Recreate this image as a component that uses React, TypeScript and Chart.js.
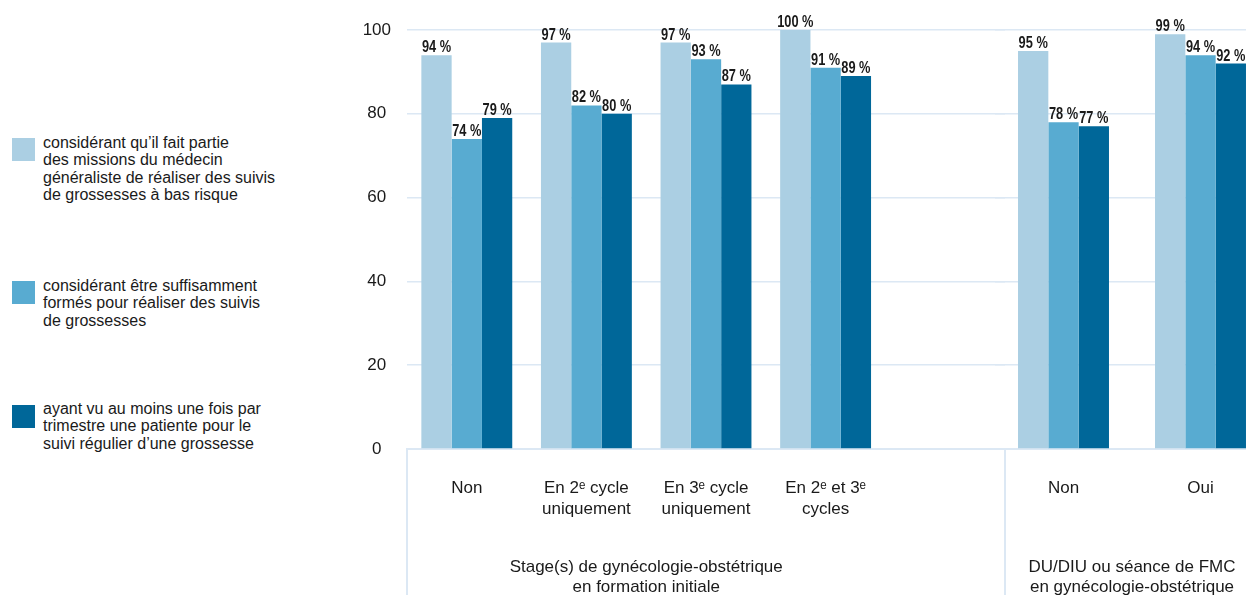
import React, { useEffect, useRef } from 'react';
import { Chart, registerables } from 'chart.js';

Chart.register(...registerables);

// ---------- data ----------
const seriesNames: string[][] = [
  ['considérant qu’il fait partie', 'des missions du médecin', 'généraliste de réaliser des suivis', 'de grossesses à bas risque'],
  ['considérant être suffisamment', 'formés pour réaliser des suivis', 'de grossesses'],
  ['ayant vu au moins une fois par', 'trimestre une patiente pour le', 'suivi régulier d’une grossesse'],
];
const seriesColors = ['#abcfe3', '#58abd1', '#006799'];

const stageCategories: (string | string[])[] = [
  'Non',
  ['En 2ᵉ cycle', 'uniquement'],
  ['En 3ᵉ cycle', 'uniquement'],
  ['En 2ᵉ et 3ᵉ', 'cycles'],
];
const stageMissions = [94, 97, 97, 100];
const stageFormes = [74, 82, 93, 91];
const stageVus = [79, 80, 87, 89];
const stageGroupLabel = ['Stage(s) de gynécologie-obstétrique', 'en formation initiale'];

const fmcCategories: (string | string[])[] = ['Non', 'Oui'];
const fmcMissions = [95, 99];
const fmcFormes = [78, 94];
const fmcVus = [77, 92];
const fmcGroupLabel = ['DU/DIU ou séance de FMC', 'en gynécologie-obstétrique'];

const yTicks = [0, 20, 40, 60, 80, 100];

// ---------- styles ----------
const gridColor = '#dce8f4';
const textColor = '#1a1a1a';
const sansFont = '"Liberation Sans", Arial, Helvetica, sans-serif';

const valueLabelPlugin = {
  id: 'valueLabels',
  afterDatasetsDraw(chart: any) {
    const ctx = chart.ctx;
    chart.data.datasets.forEach((ds: any, di: number) => {
      const meta = chart.getDatasetMeta(di);
      meta.data.forEach((el: any, i: number) => {
        const v = ds.data[i];
        if (v === null || v === undefined) return;
        ctx.save();
        ctx.font = `bold 16px ${sansFont}`;
        ctx.fillStyle = textColor;
        ctx.textAlign = 'center';
        ctx.textBaseline = 'alphabetic';
        ctx.translate(el.x, el.y - 3);
        ctx.scale(0.8, 1);
        ctx.fillText(`${v} %`, 0, 0);
        ctx.restore();
      });
    });
  },
};

function makeGroupPlugin(lines: string[], n: number, separators: boolean) {
  return {
    id: 'groupLabel',
    afterDraw(chart: any) {
      const ctx = chart.ctx;
      const xs = chart.scales.x;
      const area = chart.chartArea;
      ctx.save();
      if (separators) {
        ctx.strokeStyle = gridColor;
        ctx.lineWidth = 2;
        ctx.beginPath();
        ctx.moveTo(area.left, area.bottom);
        ctx.lineTo(area.left, chart.height);
        ctx.moveTo(area.right, area.bottom);
        ctx.lineTo(area.right, chart.height);
        ctx.stroke();
      }
      const cx = (xs.getPixelForValue(0) + xs.getPixelForValue(n - 1)) / 2;
      ctx.font = `17px ${sansFont}`;
      ctx.fillStyle = textColor;
      ctx.textAlign = 'center';
      ctx.textBaseline = 'middle';
      lines.forEach((t, i) => ctx.fillText(t, cx, 567 + i * 20));
      ctx.restore();
    },
  };
}

function buildChart(
  canvas: HTMLCanvasElement,
  labels: (string | string[])[],
  series: (number | null)[][],
  catPct: number,
  showY: boolean,
  yWidth: number,
  rightPad: number,
  groupLabel: string[],
  nReal: number,
  separators: boolean
) {
  return new Chart(canvas, {
    type: 'bar',
    data: {
      labels,
      datasets: series.map((d, i) => ({
        label: seriesNames[i].join(' '),
        data: d,
        backgroundColor: seriesColors[i],
        borderWidth: 0,
        categoryPercentage: catPct,
        barPercentage: 1,
      })),
    },
    options: {
      responsive: false,
      animation: false,
      maintainAspectRatio: false,
      layout: { padding: { top: 30, left: 0, right: rightPad, bottom: 0 } },
      plugins: { legend: { display: false }, tooltip: { enabled: false } },
      scales: {
        x: {
          grid: { display: false },
          border: { display: true, color: gridColor, width: 2 },
          ticks: {
            autoSkip: false,
            maxRotation: 0,
            minRotation: 0,
            padding: 21,
            color: textColor,
            font: { size: 17, family: sansFont, lineHeight: 1.24 },
          },
          afterFit: (s: any) => {
            s.height = 146;
          },
        },
        y: {
          min: 0,
          max: 100,
          afterBuildTicks: (s: any) => {
            s.ticks = yTicks.map((v) => ({ value: v }));
          },
          grid: { color: gridColor, lineWidth: 1.5, drawTicks: false },
          border: { display: false },
          ticks: {
            display: showY,
            padding: 16,
            crossAlign: 'center',
            color: textColor,
            font: { size: 17, family: sansFont },
          },
          afterFit: (s: any) => {
            s.width = yWidth;
          },
        },
      },
    } as any,
    plugins: [valueLabelPlugin, makeGroupPlugin(groupLabel, nReal, separators)],
  });
}

export default function App() {
  const refA = useRef<HTMLCanvasElement>(null);
  const refB = useRef<HTMLCanvasElement>(null);

  useEffect(() => {
    const a = buildChart(
      refA.current!,
      [...stageCategories, ''],
      [
        [...stageMissions, null],
        [...stageFormes, null],
        [...stageVus, null],
      ],
      0.76,
      true,
      67,
      2,
      stageGroupLabel,
      stageCategories.length,
      true
    );
    const b = buildChart(
      refB.current!,
      fmcCategories,
      [fmcMissions, fmcFormes, fmcVus],
      0.664,
      false,
      0,
      0,
      fmcGroupLabel,
      fmcCategories.length,
      false
    );
    return () => {
      a.destroy();
      b.destroy();
    };
  }, []);

  const legendTops = [
    { sw: 138, tx: 134 },
    { sw: 281, tx: 277 },
    { sw: 405, tx: 400 },
  ];

  return (
    <div
      style={{
        position: 'fixed',
        left: 0,
        top: 0,
        width: 1246,
        height: 595,
        overflow: 'hidden',
        background: '#ffffff',
        fontFamily: sansFont,
      }}
    >
      {seriesNames.map((lines, i) => (
        <React.Fragment key={i}>
          <div
            style={{
              position: 'absolute',
              left: 12,
              top: legendTops[i].sw,
              width: 23,
              height: 23,
              background: seriesColors[i],
            }}
          />
          <div
            style={{
              position: 'absolute',
              left: 43,
              top: legendTops[i].tx,
              fontSize: 16,
              lineHeight: '17.3px',
              color: textColor,
              whiteSpace: 'nowrap',
            }}
          >
            {lines.map((l, j) => (
              <div key={j}>{l}</div>
            ))}
          </div>
        </React.Fragment>
      ))}
      <canvas ref={refA} width={667} height={595} style={{ position: 'absolute', left: 340, top: 0 }} />
      <canvas ref={refB} width={274} height={595} style={{ position: 'absolute', left: 995, top: 0 }} />
    </div>
  );
}
